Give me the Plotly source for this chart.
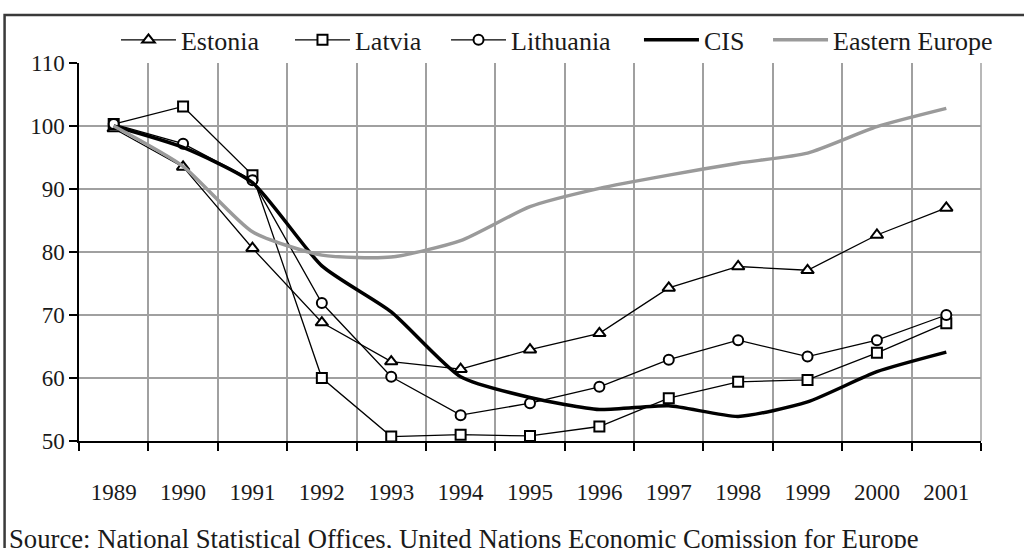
import plotly.graph_objects as go

years = ["1989", "1990", "1991", "1992", "1993", "1994", "1995", "1996", "1997", "1998", "1999", "2000", "2001"]
estonia = [99.6, 93.5, 80.6, 68.8, 62.6, 61.4, 64.5, 67.1, 74.3, 77.7, 77.1, 82.7, 87.0]
latvia = [100.3, 103.1, 92.2, 60.0, 50.7, 51.0, 50.8, 52.3, 56.8, 59.4, 59.7, 64.0, 68.7]
lithuania = [100.3, 97.2, 91.4, 71.9, 60.2, 54.1, 56.0, 58.6, 62.9, 66.0, 63.4, 66.0, 70.0]
cis = [100.0, 96.6, 91.0, 77.8, 70.5, 60.2, 56.9, 55.0, 55.6, 53.9, 56.2, 61.0, 64.1]
eastern_europe = [100.0, 93.6, 83.2, 79.5, 79.2, 81.8, 87.2, 90.1, 92.2, 94.1, 95.7, 99.9, 102.8]
y_ticks = [50, 60, 70, 80, 90, 100, 110]
source_text = "Source: National Statistical Offices, United Nations Economic Comission for Europe"

FONT = "Times New Roman, Liberation Serif, serif"
TXT = "#1a1a1a"

fig = go.Figure()

fig.add_trace(go.Scatter(x=years, y=estonia, name="Estonia", mode="lines+markers", legend="legend",
                         line=dict(color="black", width=1.3),
                         marker=dict(symbol="triangle-up", size=11, color="white",
                                     line=dict(color="black", width=2))))
fig.add_trace(go.Scatter(x=years, y=latvia, name="Latvia", mode="lines+markers", legend="legend2",
                         line=dict(color="black", width=1.3),
                         marker=dict(symbol="square", size=10, color="white",
                                     line=dict(color="black", width=2))))
fig.add_trace(go.Scatter(x=years, y=lithuania, name="Lithuania", mode="lines+markers", legend="legend3",
                         line=dict(color="black", width=1.3),
                         marker=dict(symbol="circle", size=10, color="white",
                                     line=dict(color="black", width=2))))
fig.add_trace(go.Scatter(x=years, y=cis, name="CIS", mode="lines", legend="legend4",
                         line=dict(color="black", width=3.5, shape="spline", smoothing=0.6)))
fig.add_trace(go.Scatter(x=years, y=eastern_europe, name="Eastern Europe", mode="lines", legend="legend5",
                         line=dict(color="#9a9a9a", width=3.5, shape="spline", smoothing=0.6)))


def legend_at(x):
    return dict(orientation="h", x=x, y=1.061, yanchor="middle", xanchor="left",
                font=dict(family=FONT, size=26, color=TXT),
                itemwidth=55, bgcolor="rgba(0,0,0,0)")


fig.update_layout(
    width=1024, height=548,
    paper_bgcolor="white", plot_bgcolor="white",
    margin=dict(l=79, r=43, t=63, b=107, autoexpand=False),
    font=dict(family=FONT, size=23, color=TXT),
    showlegend=True,
    legend=legend_at(0.041),
    legend2=legend_at(0.2339),
    legend3=legend_at(0.4069),
    legend4=legend_at(0.6208),
    legend5=legend_at(0.7639),
    xaxis=dict(type="category", tickson="boundaries", showgrid=True,
               range=[-0.5, 12.5], automargin=False,
               gridcolor="#a0a0a0", gridwidth=1.5,
               showline=True, linecolor="black", linewidth=1.5,
               ticks="outside", ticklen=8, tickcolor="black", tickwidth=1.5,
               ticklabelstandoff=30, tickfont=dict(family=FONT, size=23),
               zeroline=False, fixedrange=True),
    yaxis=dict(range=[50, 110], tickvals=y_ticks, showgrid=True, automargin=False,
               gridcolor="#a0a0a0", gridwidth=1.5,
               showline=True, linecolor="black", linewidth=1.5,
               ticks="outside", ticklen=8, tickcolor="black", tickwidth=1.5,
               tickfont=dict(family=FONT, size=23), zeroline=False, fixedrange=True),
)

# right border of plot area (grey, like gridlines)
fig.add_shape(type="line", xref="paper", yref="paper", x0=1, x1=1, y0=0, y1=1,
              line=dict(color="#a0a0a0", width=1.5))

# outer frame
fig.add_shape(type="rect", xref="paper", yref="paper",
              x0=-0.0825, x1=1.2, y0=-0.5, y1=1.127,
              line=dict(color="#3a3a3a", width=2.5), layer="above")

fig.add_annotation(text=source_text, xref="paper", yref="paper",
                   x=-0.08, y=-0.259, xanchor="left", yanchor="middle",
                   showarrow=False, font=dict(family=FONT, size=26.7, color=TXT))

fig.write_html("out.html", config={"displayModeBar": False},
               post_script="document.body.style.margin='0px';")
